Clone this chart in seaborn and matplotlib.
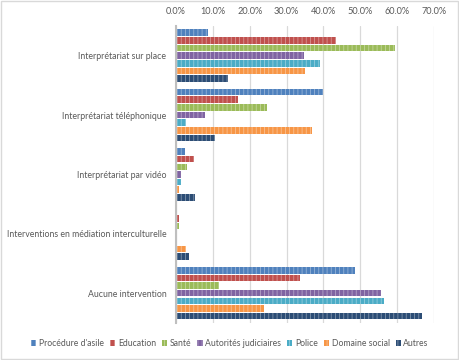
import numpy as np
import pandas as pd
import seaborn as sns
import matplotlib.pyplot as plt
from matplotlib.ticker import PercentFormatter
from matplotlib.patches import Rectangle
import matplotlib.colors as mcolors

# --- Data (share of respondents, %) ---
categories = ["Interprétariat sur place", "Interprétariat téléphonique",
              "Interprétariat par vidéo", "Interventions en médiation interculturelle",
              "Aucune intervention"]
series = ["Procédure d'asile", "Education", "Santé", "Autorités judiciaires",
          "Police", "Domaine social", "Autres"]

asile = [8.6, 39.9, 2.4, 0.0, 48.6]
education = [43.5, 16.8, 4.9, 0.8, 33.6]
sante = [59.5, 24.6, 3.0, 0.7, 11.7]
judiciaires = [34.8, 7.7, 1.4, 0.0, 55.6]
police = [39.0, 2.7, 1.3, 0.0, 56.5]
social = [35.1, 37.0, 0.7, 2.6, 23.9]
autres = [14.0, 10.5, 5.2, 3.5, 66.8]

colors = ["#4F81BD", "#C0504D", "#9BBB59", "#8064A2", "#4BACC6", "#F79646", "#2C4D75"]

values = [asile, education, sante, judiciaires, police, social, autres]
df = pd.DataFrame([
    {"Intervention": c, "Domaine": s, "Part": v}
    for s, vals in zip(series, values)
    for c, v in zip(categories, vals)
])

sns.set_style("white")
plt.rcParams["font.family"] = ["Lato", "DejaVu Sans"]
plt.rcParams["hatch.linewidth"] = 0.6
text_col = "#595959"

fig = plt.figure(figsize=(4.6, 3.6), dpi=100)
ax = fig.add_axes([0.383, 0.103, 0.56, 0.825])

sns.barplot(data=df, x="Part", y="Intervention", hue="Domaine",
            order=categories, hue_order=series, palette=colors,
            width=0.9, gap=0.15, orient="h", ax=ax, saturation=1, legend=True)

# Excel-like striped fill
for bar in ax.patches:
    fc = bar.get_facecolor()
    light = tuple(np.array(mcolors.to_rgb(fc)) * 0.6 + 0.4)
    bar.set_edgecolor(light)
    bar.set_hatch("||||")
    bar.set_linewidth(0)

ax.set_xlim(0, 70)
ax.set_ylim(4.5, -0.5)
ax.xaxis.tick_top()
ax.xaxis.set_major_formatter(PercentFormatter(decimals=1))
ax.set_xticks(np.arange(0, 71, 10))
ax.grid(axis="x", color="#D9D9D9", linewidth=0.9)
ax.set_axisbelow(True)
ax.set_xlabel("")
ax.set_ylabel("")
for s in ["top", "right", "bottom"]:
    ax.spines[s].set_visible(False)
ax.spines["left"].set_color("#BFBFBF")
ax.spines["left"].set_linewidth(1.5)

ax.tick_params(axis="x", length=0, labelsize=6.6, labelcolor=text_col, pad=7)
ax.tick_params(axis="y", which="major", length=0, labelsize=6.3, labelcolor=text_col, pad=7)
ax.set_yticks(np.arange(-0.5, 5, 1), minor=True)
ax.tick_params(axis="y", which="minor", length=5, direction="inout", color="#BFBFBF", width=1.2)

handles, labels = ax.get_legend_handles_labels()
ax.legend_.remove()
fig.legend(handles, labels, loc="center", bbox_to_anchor=(0.5, 0.046), ncol=7,
           frameon=False, fontsize=6.2, labelcolor=text_col, handlelength=0.6,
           handleheight=0.6, handletextpad=0.3, columnspacing=0.7)

fig.patches.append(Rectangle((0.002, 0.003), 0.994, 0.994, transform=fig.transFigure,
                             fill=False, edgecolor="#D9D9D9", linewidth=1))

fig.savefig("out.png", dpi=100)
